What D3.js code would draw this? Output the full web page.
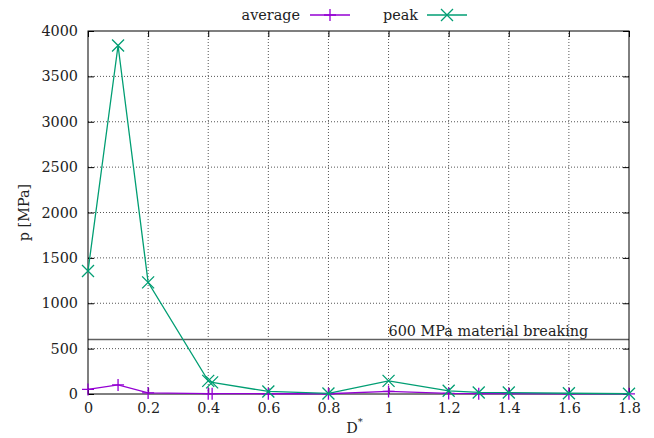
<!DOCTYPE html>
<html>
<head>
<meta charset="utf-8">
<script src="https://cdn.jsdelivr.net/npm/d3@7"></script>
<style>
  body { margin: 0; background: #fff; }
  text { font-family: "DejaVu Serif", serif; font-size: 14.4px; fill: #222; }
</style>
</head>
<body>
<svg id="canvas" width="654" height="438"></svg>
<script>
// values
var dStar   = [0, 0.1, 0.2, 0.4, 0.413, 0.6, 0.8, 1.0, 1.2, 1.3, 1.4, 1.6, 1.8];
var average = [50, 100, 12, 4, 4, 3, 3, 28, 6, 4, 4, 3, 2];
var peak    = [1355, 3840, 1230, 145, 128, 28, 6, 145, 35, 17, 16, 8, 3];
var xTicks  = [0, 0.2, 0.4, 0.6, 0.8, 1, 1.2, 1.4, 1.6, 1.8];
var yTicks  = [0, 500, 1000, 1500, 2000, 2500, 3000, 3500, 4000];
var breakingLimit = 600;
var breakingLabel = "600 MPa material breaking";

var series = [
  { name: "average", values: average, color: "#9400d3", marker: "plus" },
  { name: "peak", values: peak, color: "#009e73", marker: "cross" }
];

var svg = d3.select("#canvas"),
    margin = { top: 31, right: 25, bottom: 44, left: 88 },
    width = 654 - margin.left - margin.right,
    height = 438 - margin.top - margin.bottom;

var x = d3.scaleLinear().domain([0, 1.8]).range([margin.left, margin.left + width]);
var y = d3.scaleLinear().domain([0, 4000]).range([margin.top + height, margin.top]);

// grid
var grid = svg.append("g");
grid.selectAll(".gx").data(xTicks.slice(1, -1)).enter().append("line")
    .attr("x1", d => x(d)).attr("x2", d => x(d))
    .attr("y1", y(0)).attr("y2", y(4000))
    .attr("stroke", "#555").attr("stroke-width", 1).attr("stroke-dasharray", "1,2");
grid.selectAll(".gy").data(yTicks.slice(1, -1)).enter().append("line")
    .attr("x1", x(0)).attr("x2", x(1.8))
    .attr("y1", d => y(d)).attr("y2", d => y(d))
    .attr("stroke", "#555").attr("stroke-width", 1).attr("stroke-dasharray", "1,2");

// axes (ticks inward, mirrored)
var tick = 6;
svg.append("g").attr("transform", "translate(0," + y(0) + ")")
  .call(d3.axisBottom(x).tickValues(xTicks).tickSize(-tick).tickPadding(9).tickFormat(d3.format("~g")))
  .call(g => g.select(".domain").remove());
svg.append("g").attr("transform", "translate(0," + y(4000) + ")")
  .call(d3.axisTop(x).tickValues(xTicks).tickSize(-tick).tickFormat(""))
  .call(g => g.select(".domain").remove());
svg.append("g").attr("transform", "translate(" + x(0) + ",0)")
  .call(d3.axisLeft(y).tickValues(yTicks).tickSize(-tick).tickPadding(10).tickFormat(d3.format("d")))
  .call(g => g.select(".domain").remove());
svg.append("g").attr("transform", "translate(" + x(1.8) + ",0)")
  .call(d3.axisRight(y).tickValues(yTicks).tickSize(-tick).tickFormat(""))
  .call(g => g.select(".domain").remove());
svg.selectAll(".tick line").attr("stroke", "#000");
svg.selectAll(".tick text").attr("fill", "#222").style("font-family", "DejaVu Serif, serif").style("font-size", "14.4px");

// breaking limit line
svg.append("line")
    .attr("x1", x(0)).attr("x2", x(1.8))
    .attr("y1", y(breakingLimit)).attr("y2", y(breakingLimit))
    .attr("stroke", "#606060").attr("stroke-width", 1.5);
svg.append("text")
    .attr("x", x(1.0)).attr("y", y(breakingLimit) - 4)
    .text(breakingLabel);

// border
svg.append("rect")
    .attr("x", x(0)).attr("y", y(4000))
    .attr("width", width).attr("height", height)
    .attr("fill", "none").attr("stroke", "#000").attr("stroke-width", 1);

function drawMarker(g, cx, cy, kind, color) {
  var s = 6;
  if (kind === "plus") {
    g.append("path").attr("d", "M" + (cx - s) + "," + cy + "H" + (cx + s) + "M" + cx + "," + (cy - s) + "V" + (cy + s))
      .attr("stroke", color).attr("stroke-width", 1.3).attr("fill", "none");
  } else {
    g.append("path").attr("d", "M" + (cx - s) + "," + (cy - s) + "L" + (cx + s) + "," + (cy + s) + "M" + (cx - s) + "," + (cy + s) + "L" + (cx + s) + "," + (cy - s))
      .attr("stroke", color).attr("stroke-width", 1.3).attr("fill", "none");
  }
}

var line = d3.line().x(d => x(d[0])).y(d => y(d[1]));

series.forEach(function(s) {
  var pts = dStar.map((d, i) => [d, s.values[i]]);
  var g = svg.append("g");
  g.append("path").datum(pts).attr("d", line)
    .attr("fill", "none").attr("stroke", s.color).attr("stroke-width", 1.3);
  pts.forEach(p => drawMarker(g, x(p[0]), y(p[1]), s.marker, s.color));
});

// legend
var legend = [
  { textX: 300, lineX: 310 },
  { textX: 418, lineX: 427 }
];
series.forEach(function(s, i) {
  var L = legend[i], ly = 15;
  svg.append("text").attr("x", L.textX).attr("y", ly + 5).attr("text-anchor", "end").text(s.name);
  svg.append("line").attr("x1", L.lineX).attr("x2", L.lineX + 40).attr("y1", ly).attr("y2", ly)
    .attr("stroke", s.color).attr("stroke-width", 1.3);
  drawMarker(svg, L.lineX + 20, ly, s.marker, s.color);
});

// axis labels
svg.append("text")
    .attr("transform", "translate(29," + (margin.top + height / 2) + ") rotate(-90)")
    .attr("text-anchor", "middle").text("p [MPa]");
var xl = svg.append("text").attr("x", x(0.9) - 4).attr("y", 433).attr("text-anchor", "middle");
xl.append("tspan").text("D");
xl.append("tspan").attr("dy", -8).style("font-size", "10px").text("*");
</script>
</body>
</html>
